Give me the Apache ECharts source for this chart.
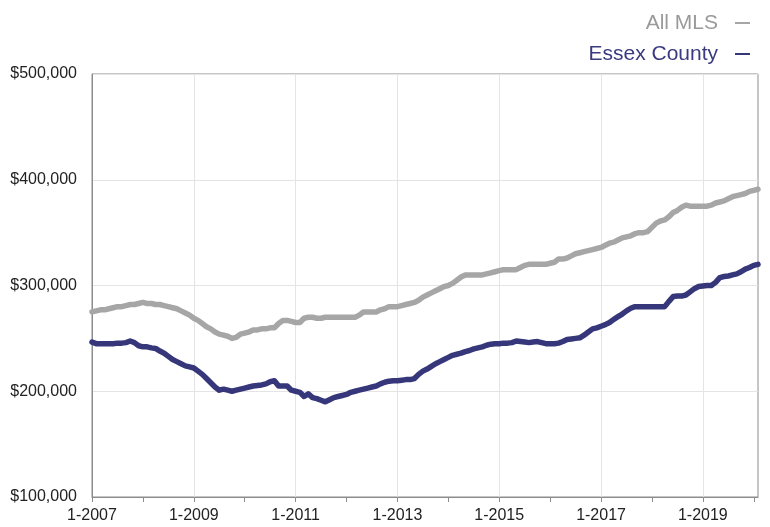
<!DOCTYPE html>
<html>
<head>
<meta charset="utf-8">
<script src="https://cdn.jsdelivr.net/npm/echarts@6/dist/echarts.min.js"></script>
<style>
  html, body { margin: 0; padding: 0; background: #fff; }
  #main { width: 770px; height: 527px; }
</style>
</head>
<body>
<div id="main"></div>
<script type="text/javascript">
// monthly median prices, 1-2007 .. 2-2020 (in thousands)
var startYear = 2007;
var allMls = [
  275, 276, 277, 277, 278, 279, 280, 280, 281, 282, 282, 283,   // 2007
  284, 283, 283, 282, 282, 281, 280, 279, 278, 276, 274, 272,   // 2008
  269, 267, 264, 261, 259, 256, 254, 253, 252, 250, 251, 254,   // 2009
  255, 256, 258, 258, 259, 259, 260, 260, 264, 267, 267, 266,   // 2010
  265, 265, 269, 270, 270, 269, 269, 270, 270, 270, 270, 270,   // 2011
  270, 270, 270, 272, 275, 275, 275, 275, 277, 278, 280, 280,   // 2012
  280, 281, 282, 283, 284, 286, 289, 291, 293, 295, 297, 299,   // 2013
  300, 302, 305, 308, 310, 310, 310, 310, 310, 311, 312, 313,   // 2014
  314, 315, 315, 315, 315, 317, 319, 320, 320, 320, 320, 320,   // 2015
  321, 322, 325, 325, 326, 328, 330, 331, 332, 333, 334, 335,   // 2016
  336, 338, 340, 341, 343, 345, 346, 347, 349, 350, 350, 351,   // 2017
  355, 359, 361, 362, 365, 369, 371, 374, 376, 375, 375, 375,   // 2018
  375, 375, 376, 378, 379, 380, 382, 384, 385, 386, 387, 389,   // 2019
  390, 391                                                      // 2020
];
var essex = [
  246.5, 245, 245, 245, 245, 245, 245.5, 245.5, 246, 247.5, 246, 243,   // 2007
  242, 242, 241, 240.5, 238, 236, 233, 230, 228, 226, 224, 223,         // 2008
  222, 219, 216, 212, 208, 204, 201, 202, 201, 200, 201, 202,           // 2009
  203, 204, 205, 205.5, 206, 207, 209, 210, 205, 205, 205, 201,         // 2010
  200, 199, 195, 197.5, 194, 193, 191.5, 190, 192, 194, 195, 196,       // 2011
  197, 199, 200, 201, 202, 203, 204, 205, 207, 208.5, 209.5, 210,       // 2012
  210, 210.5, 211, 211, 212, 216, 219, 221, 223.5, 226, 228, 230,       // 2013
  232, 234, 235, 236, 237.5, 238.5, 240, 241, 242, 243.5, 244.5, 245,   // 2014
  245, 245.5, 245.5, 246, 247.5, 247, 246.5, 246, 246.5, 247, 246, 245, // 2015
  245, 245, 245.5, 247, 249, 249.5, 250, 250.5, 253, 256, 259, 260,     // 2016
  261.5, 263, 265, 268, 270.5, 273, 276, 278.5, 280, 280, 280, 280,     // 2017
  280, 280, 280, 280, 285, 289.5, 290, 290, 291, 294, 297, 299,         // 2018
  299.5, 300, 300, 303, 307.5, 308.5, 309, 310, 311, 313, 315.5, 317,   // 2019
  319, 320                                                              // 2020
];
var yTicks = [100000, 200000, 300000, 400000, 500000];

// category labels "M-YYYY"
var months = [];
for (var i = 0; i < allMls.length; i++) {
  months.push((i % 12 + 1) + '-' + (startYear + Math.floor(i / 12)));
}
function toDollars(arr) {
  return arr.map(function (v) { return v * 1000; });
}
function money(v) {
  return '$' + String(v).replace(/\B(?=(\d{3})+(?!\d))/g, ',');
}

var chart = echarts.init(document.getElementById('main'));
chart.setOption({
  animation: false,
  textStyle: { fontFamily: 'Liberation Sans, Arial, sans-serif' },
  grid: {
    left: 92, right: 12, top: 74, bottom: 30,
    show: true, borderColor: '#8c8c8c', borderWidth: 1
  },
  legend: {
    orient: 'vertical',
    right: 15,
    top: 6,
    align: 'right',
    itemGap: 7,
    icon: 'rect',
    itemWidth: 15,
    itemHeight: 2,
    selectedMode: false,
    data: [
      { name: 'All MLS', textStyle: { color: '#9a9a9a' } },
      { name: 'Essex County', textStyle: { color: '#3a3a80' } }
    ],
    textStyle: { fontSize: 21, lineHeight: 24, padding: [0, 12, 0, 0] }
  },
  xAxis: {
    type: 'category',
    boundaryGap: false,
    data: months,
    axisLine: { lineStyle: { color: '#8c8c8c' } },
    axisTick: {
      length: 5,
      interval: function (idx) { return idx % 12 === 0; },
      lineStyle: { color: '#8c8c8c' }
    },
    axisLabel: {
      interval: function (idx) { return idx % 24 === 0; },
      color: '#222', fontSize: 16, margin: 11
    },
    splitLine: {
      show: true,
      interval: function (idx) { return idx % 24 === 0; },
      lineStyle: { color: '#e4e4e4' }
    }
  },
  yAxis: {
    type: 'value',
    min: yTicks[0],
    max: yTicks[yTicks.length - 1],
    interval: 100000,
    axisLine: { show: true, lineStyle: { color: '#8c8c8c' } },
    axisTick: { show: false },
    axisLabel: { color: '#222', fontSize: 16, margin: 15, formatter: money },
    splitLine: { lineStyle: { color: '#e4e4e4' } }
  },
  series: [
    {
      name: 'All MLS', type: 'line', data: toDollars(allMls),
      showSymbol: false, symbol: 'none',
      itemStyle: { color: '#a6a6a6' },
      lineStyle: { width: 5.5, color: '#a6a6a6', join: 'round', cap: 'round' }
    },
    {
      name: 'Essex County', type: 'line', data: toDollars(essex),
      showSymbol: false, symbol: 'none',
      itemStyle: { color: '#36367a' },
      lineStyle: { width: 5.5, color: '#36367a', join: 'round', cap: 'round' }
    }
  ]
});
</script>
</body>
</html>
